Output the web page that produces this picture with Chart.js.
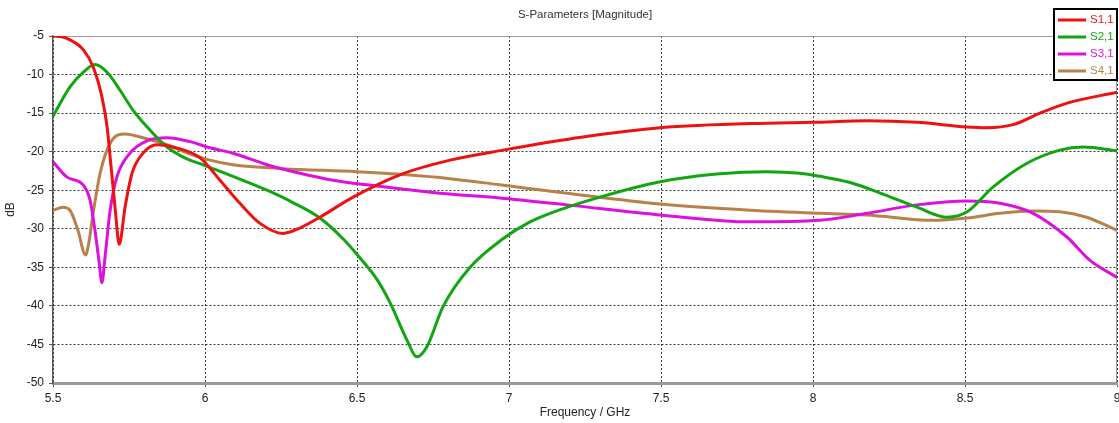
<!DOCTYPE html>
<html>
<head>
<meta charset="utf-8">
<script src="https://cdn.jsdelivr.net/npm/chart.js@4.4.1/dist/chart.umd.min.js"></script>
<style>
  html, body { margin: 0; padding: 0; background: #ffffff; }
  #wrap { width: 1119px; height: 423px; }
</style>
</head>
<body>
<div id="wrap"><canvas id="c" width="1119" height="423"></canvas></div>
<script>
// S-parameter magnitudes (dB) versus frequency (GHz)
const s11Freq = [5.5, 5.53, 5.556, 5.6, 5.632, 5.661, 5.678, 5.688, 5.704, 5.718, 5.737, 5.76, 5.796, 5.842, 5.895, 5.984, 6.049, 6.115, 6.181, 6.257, 6.312, 6.378, 6.487, 6.641, 6.806, 6.98, 7.243, 7.497, 7.849, 8.0, 8.177, 8.342, 8.507, 8.572, 8.658, 8.747, 8.836, 9.0];
const s11Db   = [-5, -5.1, -5.5, -6.8, -9, -12.9, -16.8, -20.7, -27.2, -32, -27.2, -22.8, -20.2, -19.1, -19.4, -20.8, -23.7, -26.7, -29.3, -30.6, -29.9, -28.5, -25.9, -23, -21.1, -19.8, -18.1, -16.9, -16.3, -16.2, -16.0, -16.2, -16.8, -16.9, -16.5, -15, -13.7, -12.3];

const s21Freq = [5.5, 5.556, 5.6, 5.638, 5.678, 5.72, 5.763, 5.819, 5.875, 5.928, 6.0, 6.092, 6.204, 6.289, 6.378, 6.454, 6.51, 6.566, 6.609, 6.664, 6.697, 6.73, 6.783, 6.872, 6.98, 7.069, 7.135, 7.299, 7.497, 7.684, 7.849, 7.957, 8.023, 8.122, 8.23, 8.342, 8.441, 8.507, 8.592, 8.704, 8.812, 8.888, 9.0];
const s21Db   = [-15.4, -11.6, -9.7, -8.7, -9.7, -12, -14.6, -17.2, -19.4, -20.7, -21.8, -23.2, -25.0, -26.6, -28.6, -31.3, -33.8, -36.6, -39.6, -44.4, -46.6, -45.3, -40.1, -35, -31.3, -29.1, -28, -25.9, -23.9, -22.9, -22.6, -22.8, -23.2, -24.0, -25.5, -27.2, -28.5, -27.8, -24.6, -21.5, -19.8, -19.4, -19.9];

const s31Freq = [5.5, 5.546, 5.599, 5.622, 5.638, 5.652, 5.661, 5.671, 5.688, 5.71, 5.753, 5.809, 5.875, 5.951, 6.016, 6.092, 6.204, 6.312, 6.421, 6.533, 6.641, 6.806, 6.97, 7.191, 7.497, 7.793, 8.023, 8.177, 8.342, 8.507, 8.615, 8.724, 8.836, 8.911, 9.0];
const s31Db   = [-21.3, -23.3, -24.3, -26.3, -30.2, -34.4, -37, -33.7, -27.6, -23.3, -20.2, -18.6, -18.2, -18.7, -19.5, -20.2, -21.7, -22.8, -23.7, -24.3, -24.8, -25.5, -26, -26.9, -28.2, -29.1, -28.9, -28, -26.9, -26.4, -26.7, -28, -31.1, -34.1, -36.3];

const s41Freq = [5.5, 5.533, 5.556, 5.582, 5.607, 5.618, 5.632, 5.655, 5.688, 5.737, 5.796, 5.875, 5.951, 6.016, 6.092, 6.257, 6.5, 6.664, 6.806, 6.97, 7.191, 7.497, 7.793, 8.023, 8.177, 8.395, 8.507, 8.615, 8.724, 8.812, 8.9, 9.0];
const s41Db   = [-27.6, -27.2, -27.6, -30.2, -33.4, -31.8, -28, -22.8, -18.9, -17.7, -18.2, -19.1, -20.3, -21.1, -21.7, -22.2, -22.6, -23, -23.5, -24.3, -25.4, -26.8, -27.6, -28, -28.2, -28.9, -28.6, -28, -27.7, -27.8, -28.5, -30.2];

const seriesNames = ['S1,1', 'S2,1', 'S3,1', 'S4,1'];
const xTicks = [5.5, 6, 6.5, 7, 7.5, 8, 8.5, 9];
const yTicks = [-50, -45, -40, -35, -30, -25, -20, -15, -10, -5];

const colors = ['#ee1111', '#11a611', '#dd11dd', '#b9814a'];
const FONT = 'Liberation Sans, Arial, sans-serif';

function pts(fs, vs) { return fs.map((f, i) => ({ x: f, y: vs[i] })); }

const series = [pts(s11Freq, s11Db), pts(s21Freq, s21Db), pts(s31Freq, s31Db), pts(s41Freq, s41Db)];

// Plot frame (top/right edges) and chart title
const framePlugin = {
  id: 'frame',
  beforeDatasetsDraw(chart) {
    const { ctx, chartArea: a } = chart;
    ctx.save();
    ctx.strokeStyle = '#9a9a9a';
    ctx.lineWidth = 1;
    ctx.beginPath();
    ctx.moveTo(a.left, a.top + 0.5);
    ctx.lineTo(a.right, a.top + 0.5);
    ctx.moveTo(a.right - 0.5, a.top);
    ctx.lineTo(a.right - 0.5, a.bottom);
    ctx.stroke();
    ctx.restore();
  },
  afterDraw(chart) {
    const { ctx, chartArea: a } = chart;
    ctx.save();
    ctx.fillStyle = '#333';
    ctx.font = '11.5px ' + FONT;
    ctx.textAlign = 'center';
    ctx.textBaseline = 'middle';
    ctx.fillText('S-Parameters [Magnitude]', (a.left + a.right) / 2, 15);
    ctx.restore();
  }
};

// Boxed legend in the top-right corner
const boxLegend = {
  id: 'boxLegend',
  afterDraw(chart) {
    const { ctx } = chart;
    const x = 1054, y = 9, w = 63, h = 71;
    ctx.save();
    ctx.fillStyle = '#ffffff';
    ctx.fillRect(x, y, w, h);
    ctx.strokeStyle = '#000';
    ctx.lineWidth = 2;
    ctx.strokeRect(x, y, w, h);
    ctx.font = '11.5px ' + FONT;
    ctx.textBaseline = 'middle';
    chart.data.datasets.forEach((ds, i) => {
      const ry = 20 + i * 17;
      ctx.strokeStyle = ds.borderColor;
      ctx.lineWidth = 3;
      ctx.beginPath();
      ctx.moveTo(1058, ry);
      ctx.lineTo(1086, ry);
      ctx.stroke();
      ctx.fillStyle = ds.borderColor;
      ctx.textAlign = 'left';
      ctx.fillText(ds.label, 1090, ry);
    });
    ctx.restore();
  }
};

new Chart(document.getElementById('c'), {
  type: 'line',
  data: {
    datasets: series.map((d, i) => ({
      label: seriesNames[i],
      data: d,
      borderColor: colors[i],
      backgroundColor: colors[i],
      borderWidth: 3,
      pointRadius: 0,
      cubicInterpolationMode: 'monotone',
      fill: false
    }))
  },
  options: {
    responsive: false,
    animation: false,
    devicePixelRatio: 1,
    layout: { padding: { left: 0, right: 2, top: 36, bottom: 0 } },
    plugins: {
      legend: { display: false },
      title: { display: false },
      tooltip: { enabled: false }
    },
    scales: {
      x: {
        type: 'linear',
        min: 5.5,
        max: 9,
        afterBuildTicks(scale) { scale.ticks = xTicks.map(v => ({ value: v })); },
        afterFit(scale) { scale.height = 40; scale.paddingLeft = 0; scale.paddingRight = 0; },
        ticks: {
          font: { family: FONT, size: 12 },
          color: '#222',
          padding: 4,
          maxRotation: 0,
          autoSkip: false,
          callback: v => String(v)
        },
        grid: { color: '#3a3a3a', lineWidth: 1, tickLength: 4, tickColor: '#555' },
        border: { display: true, color: '#9a9a9a', width: 3, dash: [2, 2] },
        title: {
          display: true,
          text: 'Frequency / GHz',
          font: { family: FONT, size: 12 },
          color: '#222',
          padding: { top: 0, bottom: 3 }
        }
      },
      y: {
        type: 'linear',
        min: -50,
        max: -5,
        afterBuildTicks(scale) { scale.ticks = yTicks.map(v => ({ value: v })); },
        afterFit(scale) { scale.width = 53; scale.paddingTop = 0; scale.paddingBottom = 0; },
        ticks: {
          font: { family: FONT, size: 12 },
          color: '#222',
          padding: 5,
          autoSkip: false,
          callback: v => String(v)
        },
        grid: { color: '#3a3a3a', lineWidth: 1, tickLength: 4, tickColor: '#555' },
        border: { display: true, color: '#555', width: 1.5, dash: [2, 2] },
        title: {
          display: true,
          text: 'dB',
          font: { family: FONT, size: 12 },
          color: '#222',
          padding: { top: 3, bottom: 0 }
        }
      }
    }
  },
  plugins: [framePlugin, boxLegend]
});
</script>
</body>
</html>
